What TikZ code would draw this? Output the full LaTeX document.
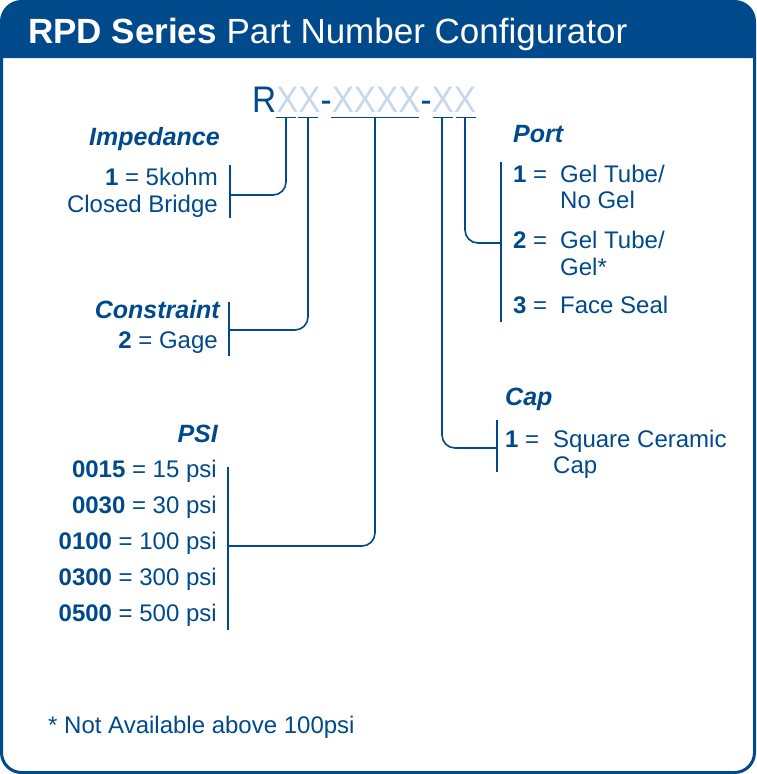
\documentclass[tikz,border=0pt]{standalone}
\usepackage{fontspec}
\setmainfont{Liberation Sans}
\definecolor{rblue}{HTML}{004A8C}
\definecolor{xlight}{HTML}{C6D8EB}
\begin{document}
\begin{tikzpicture}[x=1pt,y=-1pt,
  txt/.style={text=rblue, font=\fontsize{24}{28}\selectfont, inner sep=0pt},
  ttl/.style={text=rblue, font=\fontsize{25}{30}\selectfont\bfseries\itshape, inner sep=0pt},
  conn/.style={draw=rblue, line width=1.6pt, rounded corners=13pt},
  brk/.style={draw=rblue, line width=1.4pt},
  uline/.style={draw=rblue, line width=1.8pt},
]
\useasboundingbox (0,0) rectangle (756,774);
% header and frame
\fill[rblue] (1.5,58) {[rounded corners=20pt] -- (1.5,1.5) -- (754.5,1.5)} -- (754.5,58) -- cycle;
\draw[rblue, line width=3pt, rounded corners=20pt] (1.5,1.5) rectangle (754.5,772.5);
\node[anchor=base west, text=white, inner sep=0pt, font=\fontsize{35}{40}\selectfont] (title) at (28,43)
  {\textbf{RPD Series} Part Number Configurator};
% part number
\node[anchor=base west, inner sep=0pt, text=rblue, font=\fontsize{37}{40}\selectfont\addfontfeature{FakeStretch=0.9}] (pn) at (252,112)
  {R\textcolor{xlight}{XX}-\textcolor{xlight}{XXXX}-\textcolor{xlight}{XX}};
\draw[uline] (276,117.5) -- (296,117.5);
\draw[uline] (298,117.5) -- (318,117.5);
\draw[uline] (331,117.5) -- (419,117.5);
\draw[uline] (433,117.5) -- (453,117.5);
\draw[uline] (456,117.5) -- (476,117.5);
\coordinate (d1) at (286,117.5);
\coordinate (d2) at (308,117.5);
\coordinate (d3) at (375,117.5);
\coordinate (d4) at (442,117.5);
\coordinate (d5) at (465,117.5);
% brackets
\coordinate (b1t) at (230,165); \coordinate (b1b) at (230,218); \coordinate (b1) at (230,195);
\coordinate (b2t) at (229,302); \coordinate (b2b) at (229,356); \coordinate (b2) at (229,330);
\coordinate (b3t) at (228,467); \coordinate (b3b) at (228,630); \coordinate (b3) at (228,546);
\coordinate (b4t) at (501,162); \coordinate (b4b) at (501,322); \coordinate (b4) at (501,243);
\coordinate (b5t) at (497,420); \coordinate (b5b) at (497,472); \coordinate (b5) at (497,448);
\draw[brk] (b1t) -- (b1b);
\draw[brk] (b2t) -- (b2b);
\draw[brk] (b3t) -- (b3b);
\draw[brk] (b4t) -- (b4b);
\draw[brk] (b5t) -- (b5b);
% connectors
\draw[conn] (d1) |- (b1);
\draw[conn] (d2) |- (b2);
\draw[conn] (d3) |- (b3);
\draw[conn] (d5) |- (b4);
\draw[conn] (d4) |- (b5);
% Impedance
\node[ttl, anchor=base east] (impt) at (220,145) {Impedance};
\node[txt, anchor=base east] (imp1) at (218,185) {\textbf{1} = 5kohm};
\node[txt, anchor=base east] (imp2) at (218,212) {Closed Bridge};
% Constraint
\node[ttl, anchor=base east] (cont) at (220,318) {Constraint};
\node[txt, anchor=base east] (con1) at (218,348) {\textbf{2} = Gage};
% PSI
\node[ttl, anchor=base east] (psit) at (218,442) {PSI};
\node[txt, anchor=base east] (psi1) at (217,477) {\textbf{0015} = 15 psi};
\node[txt, anchor=base east] (psi2) at (217,513) {\textbf{0030} = 30 psi};
\node[txt, anchor=base east] (psi3) at (217,549) {\textbf{0100} = 100 psi};
\node[txt, anchor=base east] (psi4) at (217,585) {\textbf{0300} = 300 psi};
\node[txt, anchor=base east] (psi5) at (217,621) {\textbf{0500} = 500 psi};
% Port
\node[ttl, anchor=base west] (portt) at (513,142) {Port};
\node[txt, anchor=base west] (p1n) at (513,182) {\textbf{1} =};
\node[txt, anchor=base west] (p1a) at (560,182) {Gel Tube/};
\node[txt, anchor=base west] (p1b) at (560,208) {No Gel};
\node[txt, anchor=base west] (p2n) at (513,248) {\textbf{2} =};
\node[txt, anchor=base west] (p2a) at (560,248) {Gel Tube/};
\node[txt, anchor=base west] (p2b) at (560,275) {Gel*};
\node[txt, anchor=base west] (p3n) at (513,313) {\textbf{3} =};
\node[txt, anchor=base west] (p3a) at (560,313) {Face Seal};
% Cap
\node[ttl, anchor=base west] (capt) at (505,405) {Cap};
\node[txt, anchor=base west] (c1n) at (505,447) {\textbf{1} =};
\node[txt, anchor=base west] (c1a) at (553,447) {Square Ceramic};
\node[txt, anchor=base west] (c1b) at (553,473) {Cap};
% footnote
\node[txt, anchor=base west] (foot) at (48,733) {* Not Available above 100psi};
\end{tikzpicture}
\end{document}
